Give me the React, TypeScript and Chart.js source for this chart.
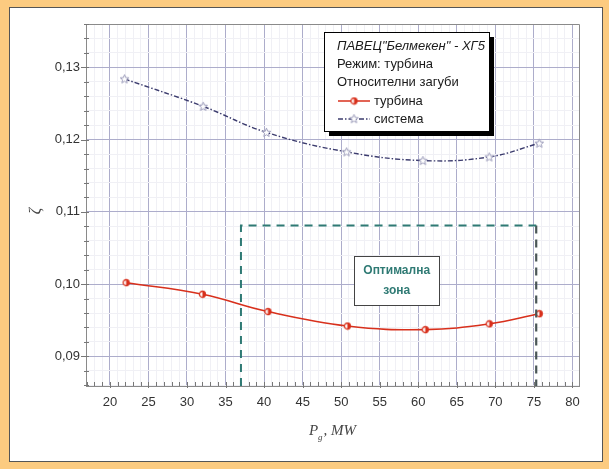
import React, { useEffect, useRef } from "react";
import { Chart, registerables } from "chart.js";

Chart.register(...registerables);

// ---- data ----
const powerTurbine = [22.1, 32.0, 40.5, 50.8, 60.9, 69.2, 75.7];
const lossTurbine = [0.1002, 0.0986, 0.0962, 0.0942, 0.0937, 0.0945, 0.0959];
const powerSystem = [21.9, 32.1, 40.3, 50.7, 60.6, 69.2, 75.7];
const lossSystem = [0.1284, 0.1246, 0.121, 0.1183, 0.1171, 0.1176, 0.1195];
const seriesLabels = ["турбина", "система"];
const legendTitleLines = ['ПАВЕЦ"Белмекен" - ХГ5', "Режим: турбина", "Относителни загуби"];
const zoneX = [37.0, 75.3];
const zoneTop = 0.1081;
const zoneLabel = ["Оптимална", "зона"];
const zoneLabelPos = [57.2, 0.1005];
const xRange = [16.9, 80.85];
const yRange = [0.0859, 0.136];
const xMajorStep = 5;
const xMinorStep = 1;
const yMajorStep = 0.01;
const yMinorStep = 0.002;
const xTitle = ["P", "g", ", MW"];
const yTitle = "ζ";

const FONT = "'Liberation Sans', Arial, sans-serif";
const SERIF = "'Liberation Serif', 'Times New Roman', serif";
const RED = "#d8301c";
const NAVY = "#3c3c6e";
const TEAL = "#2f7a74";

function isMultiple(v: number, step: number) {
  const r = v / step;
  return Math.abs(r - Math.round(r)) < 1e-6;
}

function halfCircle(): HTMLCanvasElement {
  const c = document.createElement("canvas");
  c.width = 9;
  c.height = 9;
  const g = c.getContext("2d")!;
  g.strokeStyle = RED;
  g.lineWidth = 1.3;
  g.beginPath();
  g.arc(4.5, 4.5, 3.0, 0, Math.PI * 2);
  g.fillStyle = "#fff";
  g.fill();
  g.stroke();
  g.beginPath();
  g.moveTo(4.5, 1.5);
  g.arc(4.5, 4.5, 3.0, -Math.PI / 2, Math.PI / 2);
  g.closePath();
  g.fillStyle = RED;
  g.fill();
  return c;
}

function starMarker(): HTMLCanvasElement {
  const c = document.createElement("canvas");
  c.width = 11;
  c.height = 11;
  const g = c.getContext("2d")!;
  g.beginPath();
  for (let i = 0; i < 10; i++) {
    const r = i % 2 === 0 ? 4.6 : 2.0;
    const a = -Math.PI / 2 + (i * Math.PI) / 5;
    const x = 5.5 + r * Math.cos(a);
    const y = 5.8 + r * Math.sin(a);
    if (i === 0) g.moveTo(x, y);
    else g.lineTo(x, y);
  }
  g.closePath();
  g.fillStyle = "#fff";
  g.fill();
  g.strokeStyle = "#9c9cba";
  g.lineWidth = 1;
  g.stroke();
  return c;
}

function buildTicks(min: number, max: number, step: number) {
  const out: { value: number }[] = [];
  const start = Math.ceil(min / step - 1e-9);
  const end = Math.floor(max / step + 1e-9);
  for (let i = start; i <= end; i++) out.push({ value: +(i * step).toFixed(6) });
  return out;
}

export default function App() {
  const ref = useRef<HTMLCanvasElement>(null);

  useEffect(() => {
    if (!ref.current) return;
    const turbMarker = halfCircle();
    const sysMarker = starMarker();

    const decor = {
      id: "decor",
      beforeDatasetsDraw(chart: any) {
        const { ctx, chartArea: a } = chart;
        const xs = chart.scales.x;
        const ys = chart.scales.y;
        ctx.save();
        ctx.strokeStyle = "#8a8a8a";
        ctx.lineWidth = 1;
        ctx.beginPath();
        ctx.moveTo(a.left, a.top + 0.5);
        ctx.lineTo(a.right + 0.5, a.top + 0.5);
        ctx.lineTo(a.right + 0.5, a.bottom);
        ctx.stroke();
        ctx.strokeStyle = "#777";
        for (const t of buildTicks(xRange[0], xRange[1], xMinorStep)) {
          const px = Math.round(xs.getPixelForValue(t.value)) + 0.5;
          ctx.beginPath();
          ctx.moveTo(px, a.bottom);
          ctx.lineTo(px, a.bottom - 4);
          if (isMultiple(t.value, xMajorStep)) ctx.lineTo(px, a.bottom + 2);
          ctx.stroke();
        }
        for (const t of buildTicks(yRange[0], yRange[1], yMinorStep)) {
          const py = Math.round(ys.getPixelForValue(t.value)) + 0.5;
          ctx.beginPath();
          if (isMultiple(t.value, yMajorStep)) {
            ctx.moveTo(a.left - 5, py);
            ctx.lineTo(a.left + 3, py);
          } else {
            ctx.moveTo(a.left - 2, py);
            ctx.lineTo(a.left + 3, py);
          }
          ctx.stroke();
        }
        ctx.restore();
      },
      afterDatasetsDraw(chart: any) {
        const { ctx } = chart;
        const xs = chart.scales.x;
        const ys = chart.scales.y;
        const cx = xs.getPixelForValue(zoneLabelPos[0]);
        const cy = ys.getPixelForValue(zoneLabelPos[1]);
        const w = 85;
        const h = 49;
        ctx.save();
        ctx.fillStyle = "#fff";
        ctx.strokeStyle = "#444";
        ctx.lineWidth = 1;
        ctx.fillRect(Math.round(cx - w / 2), Math.round(cy - h / 2), w, h);
        ctx.strokeRect(Math.round(cx - w / 2) + 0.5, Math.round(cy - h / 2) + 0.5, w, h);
        ctx.fillStyle = TEAL;
        ctx.font = `bold 12px ${FONT}`;
        ctx.textAlign = "center";
        ctx.textBaseline = "middle";
        ctx.fillText(zoneLabel[0], cx, cy - 10);
        ctx.fillText(zoneLabel[1], cx, cy + 10);
        ctx.restore();
      },
      afterDraw(chart: any) {
        const { ctx, chartArea: a } = chart;
        ctx.save();
        const L = 324, T = 32, W = 165, H = 99;
        ctx.fillStyle = "#000";
        ctx.fillRect(L + 5, T + 5, W, H);
        ctx.fillStyle = "#fff";
        ctx.fillRect(L, T, W, H);
        ctx.strokeStyle = "#000";
        ctx.lineWidth = 1;
        ctx.strokeRect(L + 0.5, T + 0.5, W, H);
        ctx.fillStyle = "#1a1a1a";
        ctx.textAlign = "left";
        ctx.textBaseline = "middle";
        ctx.font = `italic 13px ${FONT}`;
        ctx.fillText(legendTitleLines[0], L + 13, T + 14);
        ctx.font = `13px ${FONT}`;
        ctx.fillText(legendTitleLines[1], L + 13, T + 32);
        ctx.fillText(legendTitleLines[2], L + 13, T + 50);
        let y = T + 69;
        ctx.strokeStyle = RED;
        ctx.lineWidth = 1.5;
        ctx.setLineDash([]);
        ctx.beginPath();
        ctx.moveTo(L + 14, y);
        ctx.lineTo(L + 46, y);
        ctx.stroke();
        ctx.drawImage(turbMarker, L + 30 - 4.5, y - 4.5);
        ctx.fillText(seriesLabels[0], L + 50, y);
        y = T + 87;
        ctx.strokeStyle = NAVY;
        ctx.lineWidth = 1.3;
        ctx.setLineDash([5, 2, 1.5, 2]);
        ctx.beginPath();
        ctx.moveTo(L + 14, y);
        ctx.lineTo(L + 46, y);
        ctx.stroke();
        ctx.setLineDash([]);
        ctx.drawImage(sysMarker, L + 30 - 5.5, y - 5.8);
        ctx.fillStyle = "#1a1a1a";
        ctx.fillText(seriesLabels[1], L + 50, y);
        ctx.fillStyle = "#444";
        ctx.textBaseline = "alphabetic";
        ctx.font = `italic 15px ${SERIF}`;
        const wP = ctx.measureText(xTitle[0]).width;
        const wRest = ctx.measureText(xTitle[2]).width;
        ctx.font = `italic 9px ${SERIF}`;
        const wg = ctx.measureText(xTitle[1]).width;
        const total = wP + wg + 1 + wRest;
        const x0 = (a.left + a.right) / 2 - total / 2;
        ctx.font = `italic 15px ${SERIF}`;
        ctx.fillText(xTitle[0], x0, 435);
        ctx.font = `italic 9px ${SERIF}`;
        ctx.fillText(xTitle[1], x0 + wP, 440);
        ctx.font = `italic 15px ${SERIF}`;
        ctx.fillText(xTitle[2], x0 + wP + wg + 1, 435);
        ctx.translate(36, 211);
        ctx.rotate(-Math.PI / 2);
        ctx.font = `italic 16px ${SERIF}`;
        ctx.textAlign = "center";
        ctx.textBaseline = "middle";
        ctx.fillText(yTitle, 0, 0);
        ctx.restore();
      },
    };

    const chart = new Chart(ref.current, {
      type: "line",
      data: {
        datasets: [
          {
            label: "zone-left-top",
            data: [
              { x: zoneX[0], y: yRange[0] },
              { x: zoneX[0], y: zoneTop },
              { x: zoneX[1], y: zoneTop },
            ],
            borderColor: TEAL,
            borderWidth: 2,
            borderDash: [8, 6],
            pointRadius: 0,
            tension: 0,
          },
          {
            label: "zone-right",
            data: [
              { x: zoneX[1], y: zoneTop },
              { x: zoneX[1], y: yRange[0] },
            ],
            borderColor: "#4a5656",
            borderWidth: 2.2,
            borderDash: [8, 6],
            pointRadius: 0,
            tension: 0,
          },
          {
            label: seriesLabels[1],
            data: powerSystem.map((x, i) => ({ x, y: lossSystem[i] })),
            borderColor: NAVY,
            borderWidth: 1.4,
            borderDash: [5, 2, 1.5, 2],
            pointStyle: sysMarker as any,
            pointRadius: 5,
            tension: 0.4,
          },
          {
            label: seriesLabels[0],
            data: powerTurbine.map((x, i) => ({ x, y: lossTurbine[i] })),
            borderColor: RED,
            borderWidth: 1.6,
            pointStyle: turbMarker as any,
            pointRadius: 4,
            tension: 0.4,
          },
        ],
      },
      options: {
        animation: false,
        responsive: false,
        maintainAspectRatio: false,
        layout: { padding: { left: 0, top: 24, right: 30, bottom: 0 } },
        plugins: { legend: { display: false }, tooltip: { enabled: false } },
        scales: {
          x: {
            type: "linear",
            min: xRange[0],
            max: xRange[1],
            afterBuildTicks: (s: any) => {
              s.ticks = buildTicks(xRange[0], xRange[1], xMinorStep);
            },
            afterFit: (s: any) => {
              s.height = 83;
            },
            ticks: {
              autoSkip: false,
              maxRotation: 0,
              padding: 9,
              color: "#333",
              font: { family: FONT, size: 13 },
              callback: (v: any) => (isMultiple(Number(v), xMajorStep) ? String(Math.round(Number(v))) : ""),
            },
            grid: {
              drawTicks: false,
              color: (c: any) => (c.tick && isMultiple(c.tick.value, xMajorStep) ? "#adadcb" : "#f0f0f5"),
              lineWidth: 1,
            },
            border: { color: "#8a8a8a", width: 1 },
          },
          y: {
            type: "linear",
            min: yRange[0],
            max: yRange[1],
            afterBuildTicks: (s: any) => {
              s.ticks = buildTicks(yRange[0], yRange[1], yMinorStep);
            },
            afterFit: (s: any) => {
              s.width = 86;
            },
            ticks: {
              autoSkip: false,
              padding: 6,
              color: "#333",
              font: { family: FONT, size: 13 },
              callback: (v: any) =>
                isMultiple(Number(v), yMajorStep) ? Number(v).toFixed(2).replace(".", ",") : "",
            },
            grid: {
              drawTicks: false,
              color: (c: any) => (c.tick && isMultiple(c.tick.value, yMajorStep) ? "#adadcb" : "#f0f0f5"),
              lineWidth: 1,
            },
            border: { color: "#8a8a8a", width: 1 },
          },
        },
      },
      plugins: [decor],
    });
    return () => chart.destroy();
  }, []);

  return (
    <div
      style={{
        position: "fixed",
        left: 0,
        top: 0,
        width: 609,
        height: 469,
        background: "#fccb80",
        overflow: "hidden",
      }}
    >
      <div
        style={{
          position: "absolute",
          left: 9,
          top: 7,
          width: 594,
          height: 455,
          background: "#fff",
          border: "1.5px solid #555",
          boxSizing: "border-box",
        }}
      />
      <canvas
        ref={ref}
        width={609}
        height={469}
        style={{ position: "absolute", left: 0, top: 0, width: 609, height: 469 }}
      />
    </div>
  );
}
